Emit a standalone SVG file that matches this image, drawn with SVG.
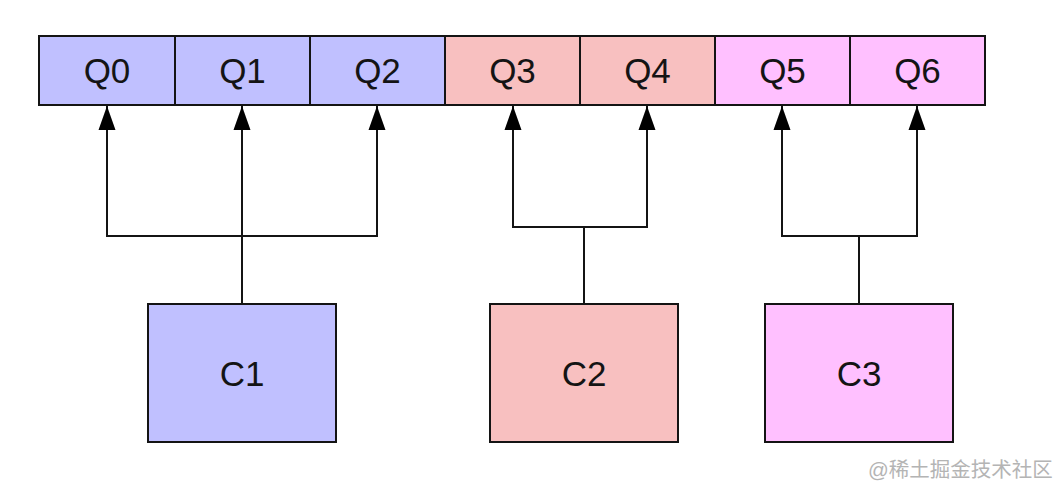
<svg xmlns="http://www.w3.org/2000/svg" width="1056" height="494" viewBox="0 0 1056 494">
<style>
.box{stroke:#141414;stroke-width:2}
.b{fill:#c0c0ff}.r{fill:#f8c0c0}.m{fill:#ffc0ff}
.t{font-family:"Liberation Sans",Arial,sans-serif;font-size:35px;fill:#141414;text-anchor:middle}
.e{fill:none;stroke:#141414;stroke-width:2;marker-end:url(#ah)}
.wm{font-family:"Liberation Sans","Noto Sans CJK SC",sans-serif;font-size:20.5px;fill:#b4b4b4}
</style>
<defs>
<marker id="ah" markerUnits="userSpaceOnUse" markerWidth="25" markerHeight="18" viewBox="0 0 25 18" refX="24" refY="9" orient="auto">
<path d="M0,0.5 L24,9 L0,17.5 z" fill="#000"/>
</marker>
</defs>
<rect width="1056" height="494" fill="#fff"/>
<g id="Q0"><rect class="box b" x="39" y="36" width="136" height="69"/><text class="t" x="107" y="83">Q0</text></g>
<g id="Q1"><rect class="box b" x="175" y="36" width="135" height="69"/><text class="t" x="242.5" y="83">Q1</text></g>
<g id="Q2"><rect class="box b" x="310" y="36" width="135" height="69"/><text class="t" x="377.5" y="83">Q2</text></g>
<g id="Q3"><rect class="box r" x="445" y="36" width="135" height="69"/><text class="t" x="512.5" y="83">Q3</text></g>
<g id="Q4"><rect class="box r" x="580" y="36" width="135" height="69"/><text class="t" x="647.5" y="83">Q4</text></g>
<g id="Q5"><rect class="box m" x="715" y="36" width="135" height="69"/><text class="t" x="782.5" y="83">Q5</text></g>
<g id="Q6"><rect class="box m" x="850" y="36" width="135" height="69"/><text class="t" x="917.5" y="83">Q6</text></g>
<g id="C1"><rect class="box b" x="148" y="304" width="188" height="138"/><text class="t" x="242" y="386">C1</text></g>
<g id="C2"><rect class="box r" x="490" y="304" width="188" height="138"/><text class="t" x="584" y="386">C2</text></g>
<g id="C3"><rect class="box m" x="765" y="304" width="188" height="138"/><text class="t" x="859" y="386">C3</text></g>
<g id="connectors">
<path class="e" d="M242,304 V236 H107 V106"/>
<path class="e" d="M242,304 V106"/>
<path class="e" d="M242,304 V236 H377 V106"/>
<path class="e" d="M584,304 V227 H513 V106"/>
<path class="e" d="M584,304 V227 H647 V106"/>
<path class="e" d="M859,304 V236 H782 V106"/>
<path class="e" d="M859,304 V236 H917 V106"/>
</g>
<text class="wm" x="868" y="477">@稀土掘金技术社区</text>
</svg>
